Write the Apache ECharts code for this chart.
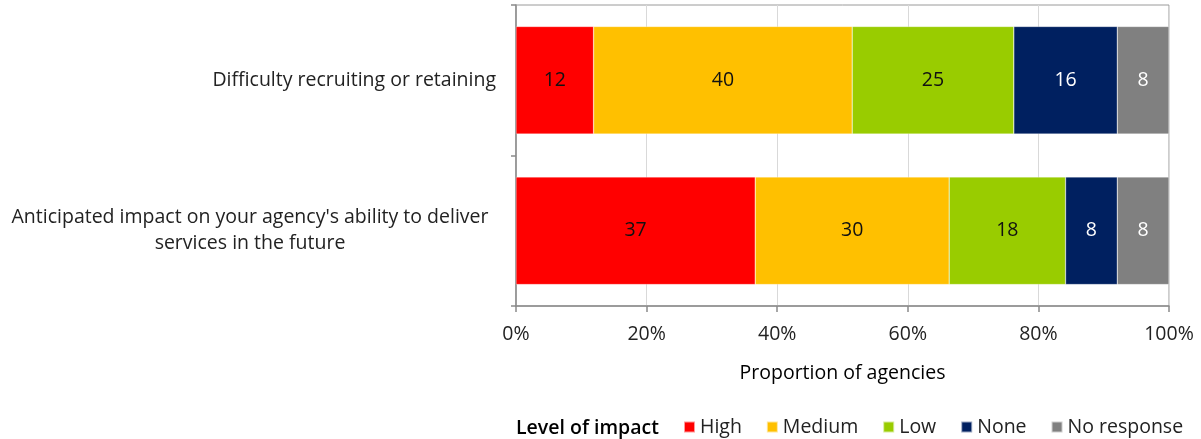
<!DOCTYPE html>
<html><head><meta charset="utf-8">
<script src="https://cdn.jsdelivr.net/npm/echarts@6/dist/echarts.min.js"></script>
<style>html,body{margin:0;padding:0;background:#fff}#c{width:1201px;height:439px}</style>
</head><body><div id="c"></div>
<script>
const categories = ["Difficulty recruiting or retaining", "Anticipated impact on your agency's ability to deliver services in the future"];
const levels = ["High", "Medium", "Low", "None", "No response"];
const high = [12, 37];
const medium = [40, 30];
const low = [25, 18];
const none = [16, 8];
const noResponse = [8, 8];
const xTicks = [0, 20, 40, 60, 80, 100];
const colors = ["#FF0000", "#FFC000", "#99CC00", "#002060", "#808080"];
const labelColors = ["#111", "#111", "#111", "#fff", "#fff"];

const raw = [high, medium, low, none, noResponse];
const totals = categories.map((_, i) => raw.reduce((s, arr) => s + arr[i], 0));
const FONT = "'Open Sans', 'Liberation Sans', Arial, sans-serif";
const FS = 19.5;

const chart = echarts.init(document.getElementById('c'));
chart.setOption({
  animation: false,
  backgroundColor: '#fff',
  grid: { left: 516, right: 32, top: 5, bottom: 133, show: true, borderColor: '#9a9a9a', borderWidth: 1 },
  xAxis: {
    type: 'value', min: xTicks[0], max: xTicks[xTicks.length - 1], interval: 20,
    axisLine: { show: true, lineStyle: { color: '#8a8a8a', width: 1.5 } },
    axisTick: { show: true, length: 6, lineStyle: { color: '#8a8a8a', width: 1.5 } },
    splitLine: { show: true, lineStyle: { color: '#d9d9d9', width: 1 } },
    axisLabel: { formatter: v => v + '%', color: '#222', fontSize: FS, fontFamily: FONT, margin: 18 },
    name: 'Proportion of agencies', nameLocation: 'middle', nameGap: 57,
    nameTextStyle: { color: '#000', fontSize: FS, fontFamily: FONT }
  },
  yAxis: {
    type: 'category', data: categories, inverse: true,
    axisLine: { show: true, lineStyle: { color: '#8a8a8a', width: 1.5 } },
    axisTick: { show: true, length: 5, alignWithLabel: false, lineStyle: { color: '#8a8a8a', width: 1.5 } },
    axisLabel: {
      color: '#222', fontSize: FS, fontFamily: FONT, margin: 20, lineHeight: 26,
      formatter: function (v) {
        if (v.length > 50) {
          const idx = v.lastIndexOf(' services');
          return '{w|' + v.slice(0, idx) + '}\n{w|' + v.slice(idx + 1) + '}';
        }
        return v;
      },
      rich: { w: { width: 492, align: 'center', fontSize: FS, fontFamily: FONT, color: '#222', lineHeight: 26 } }
    }
  },
  legend: {
    top: 412, left: 678, itemWidth: 11, itemHeight: 11, itemGap: 24,
    icon: 'rect', data: levels,
    textStyle: { color: '#222', fontSize: FS, fontFamily: FONT, padding: [0, 0, 0, 0] }
  },
  graphic: [{
    type: 'text', left: 516, top: 418,
    style: { text: 'Level of impact', fill: '#000', fontSize: FS, fontFamily: FONT, fontWeight: 600 }
  }],
  series: levels.map((name, k) => ({
    name, type: 'bar', stack: 'total', barWidth: '71.5%',
    itemStyle: { color: colors[k], borderColor: 'rgba(255,255,255,0.6)', borderWidth: 0.5 },
    label: {
      show: true, position: 'inside', color: labelColors[k], fontSize: FS, fontFamily: FONT,
      formatter: p => String(raw[k][p.dataIndex])
    },
    data: raw[k].map((v, i) => v / totals[i] * 100)
  }))
});
</script></body></html>
